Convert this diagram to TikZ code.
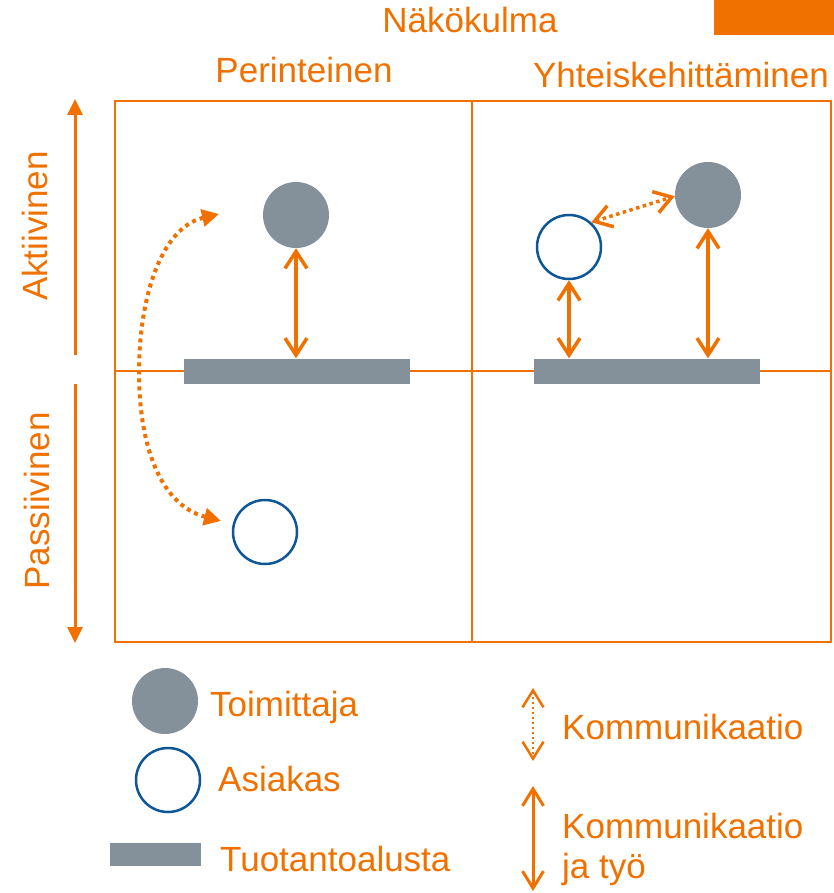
\documentclass[tikz,border=0pt]{standalone}
\usepackage{fontspec}
\setmainfont{Liberation Sans}
\usetikzlibrary{arrows.meta}
\definecolor{orng}{RGB}{240,113,0}
\definecolor{gry}{RGB}{132,145,155}
\definecolor{blu}{RGB}{14,86,150}
\begin{document}
\begin{tikzpicture}[x=1pt,y=-1pt,
  lbl/.style={text=orng,font=\fontsize{35}{40}\selectfont,inner sep=0pt},
  supp/.style={circle,fill=gry,minimum size=66pt,inner sep=0pt},
  cust/.style={circle,draw=blu,line width=2.5pt,fill=white,minimum size=64pt,inner sep=0pt},
  platf/.style={rectangle,fill=gry,minimum width=226pt,minimum height=25pt,inner sep=0pt},
  gridln/.style={draw=orng,line width=2pt},
  work/.style={draw=orng,line width=3.5pt,{Straight Barb[length=17pt,width=22pt]}-{Straight Barb[length=17pt,width=22pt]}},
  comm/.style={draw=orng,line width=3.5pt,dash pattern=on 3.5pt off 3.5pt,{Straight Barb[length=17pt,width=22pt]}-{Straight Barb[length=17pt,width=22pt]}},
  axis/.style={draw=orng,line width=3pt,-{Triangle[length=16pt,width=15pt]}}
]
\useasboundingbox (0,0) rectangle (834,893);
% header
\fill[orng] (714,0) rectangle (834,35);
\node[lbl,anchor=base] (title) at (470,33) {Näkökulma};
\node[lbl,anchor=base] (colA) at (304,83) {Perinteinen};
\node[lbl,anchor=base] (colB) at (681,88) {Yhteiskehittäminen};
% grid
\draw[gridln] (115,101) rectangle (831,642);
\draw[gridln] (472,101) -- (472,642);
\draw[gridln] (115,371) -- (831,371);
% axis
\coordinate (axA0) at (75,355);
\coordinate (axA1) at (75,99);
\coordinate (axB0) at (75,384);
\coordinate (axB1) at (75,643);
\draw[axis] (axA0) -- (axA1);
\draw[axis] (axB0) -- (axB1);
\node[lbl,rotate=90,anchor=base] (rowA) at (47,226) {Aktiivinen};
\node[lbl,rotate=90,anchor=base] (rowB) at (49,501) {Passiivinen};
% left quadrant
\node[platf] (bar1) at (297,371) {};
\node[supp] (sup1) at (296,215) {};
\node[cust] (cust1) at (265,532) {};
\coordinate (cvA) at (219,214);
\coordinate (cvB) at (221,521);
\draw[orng,line width=4pt,dash pattern=on 4pt off 4pt,{Triangle[length=17pt,width=17pt]}-{Triangle[length=17pt,width=17pt]}]
  (cvA) .. controls (160,228) and (139,300) .. (139,372) .. controls (139,445) and (160,505) .. (cvB);
\draw[work] (sup1.south) -- (sup1.south |- bar1.north);
% right quadrant
\node[platf] (bar2) at (647,371) {};
\node[supp] (sup2) at (708,195) {};
\node[cust] (cust2) at (569,247) {};
\draw[work] (cust2.south) -- (cust2.south |- bar2.north);
\draw[work] (sup2.south) -- (sup2.south |- bar2.north);
\draw[comm] (cust2.48) -- (sup2.182);
% legend
\node[supp] (lgS) at (165,701) {};
\node[lbl,anchor=base west] (lgSt) at (210,716) {Toimittaja};
\node[cust] (lgC) at (168,780) {};
\node[lbl,anchor=base west] (lgCt) at (218,791) {Asiakas};
\node[rectangle,fill=gry,minimum width=91pt,minimum height=23pt,inner sep=0pt] (lgP) at (155.5,854.5) {};
\node[lbl,anchor=base west] (lgPt) at (220,871) {Tuotantoalusta};
\coordinate (lcA0) at (533,688);
\coordinate (lcA1) at (533,761);
\draw[draw=orng,line width=2.5pt,dash pattern=on 2.5pt off 2.5pt,{Straight Barb[length=17pt,width=21pt]}-{Straight Barb[length=17pt,width=21pt]}] (lcA0) -- (lcA1);
\node[lbl,anchor=base west] (lgCo) at (562,739) {Kommunikaatio};
\coordinate (lcB0) at (533,786);
\coordinate (lcB1) at (533,891);
\draw[draw=orng,line width=3pt,{Straight Barb[length=17pt,width=21pt]}-{Straight Barb[length=17pt,width=21pt]}] (lcB0) -- (lcB1);
\node[lbl,anchor=base west] (lgW) at (562,838) {Kommunikaatio};
\node[lbl,anchor=base west] (lgW2) at (562,878) {ja työ};
\end{tikzpicture}
\end{document}
